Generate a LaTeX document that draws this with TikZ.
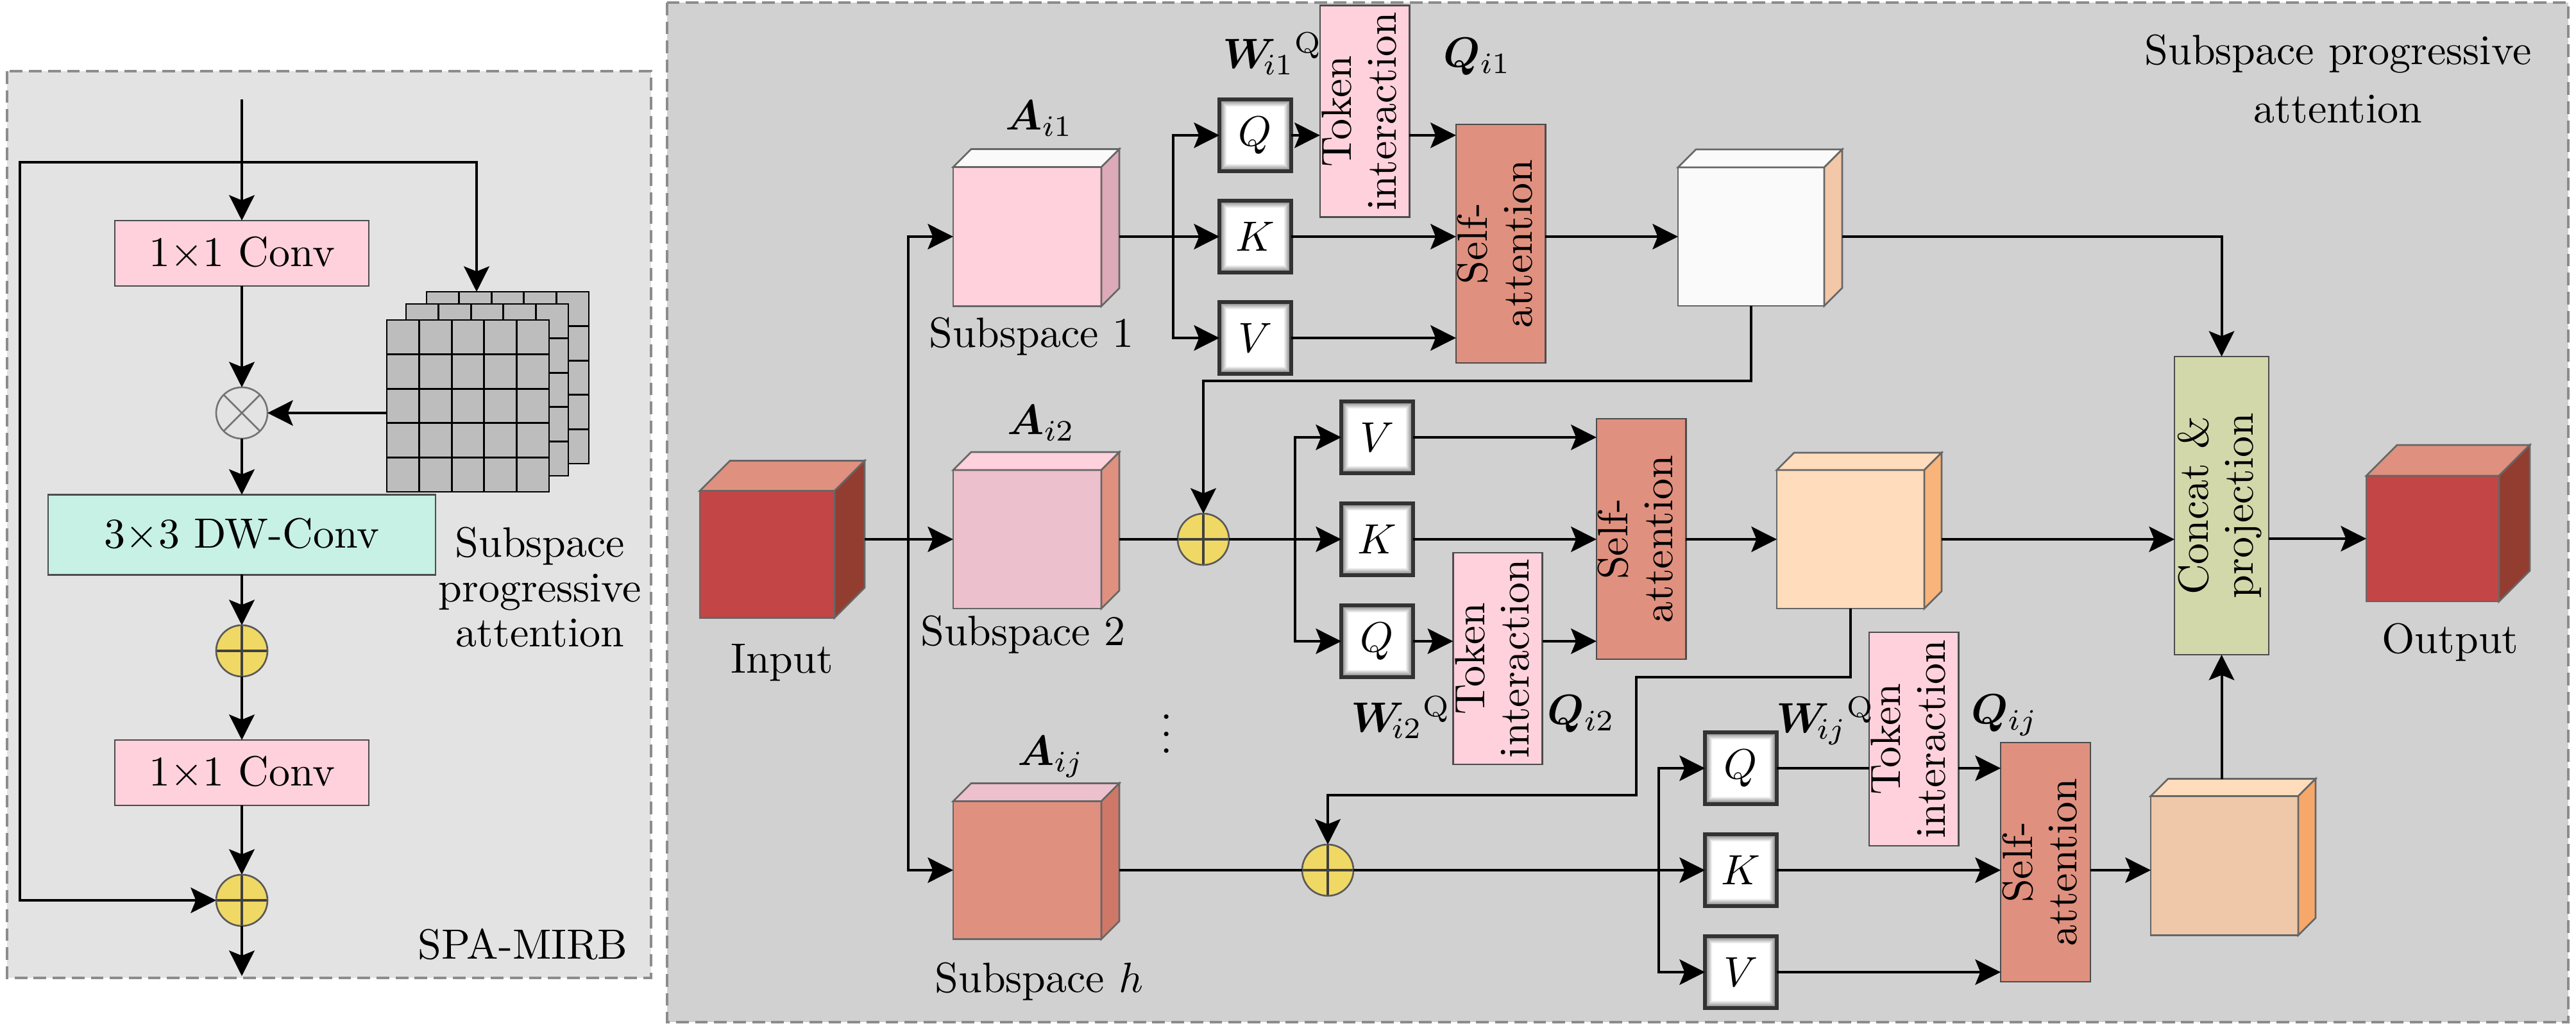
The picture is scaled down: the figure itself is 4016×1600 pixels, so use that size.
\documentclass[tikz,border=0pt]{standalone}
\usepackage{amsmath,bm}
\usetikzlibrary{arrows.meta}

\newcommand{\pxu}{0.1515pt}
\definecolor{panelL}{HTML}{E3E3E3}
\definecolor{panelR}{HTML}{D1D1D1}
\definecolor{convpink}{HTML}{FFD1DC}
\definecolor{dwmint}{HTML}{C6F1E4}
\definecolor{saltone}{HTML}{E0907F}
\definecolor{addyel}{HTML}{F0D864}
\definecolor{catgreen}{HTML}{D2D8AA}
\definecolor{inred}{HTML}{C44545}
\definecolor{indark}{HTML}{923D30}
\definecolor{offwhite}{HTML}{FAFAFA}
\definecolor{pinkdark}{HTML}{DCAAB8}
\definecolor{pinkmid}{HTML}{ECC0CC}
\definecolor{salside}{HTML}{D07868}
\definecolor{peach}{HTML}{FFDCBC}
\definecolor{peachside}{HTML}{F8B47A}
\definecolor{peachdark}{HTML}{EEC8A8}
\definecolor{peachsidedark}{HTML}{F5A86A}
\definecolor{whiteside}{HTML}{F2C8A8}
\definecolor{gridgray}{HTML}{BDBDBD}

% two lines of text turned upwards
\newcommand{\vtwo}[2]{\rotatebox{90}{\renewcommand{\arraystretch}{0.88}\begin{tabular}{@{}c@{}}#1\\#2\end{tabular}}}

% cube: name, centre of front face, width, height, depth, front, top, side
\newcommand{\spcube}[8]{%
  \node[cubefront, fill=#6, minimum width=#3*\pxu, minimum height=#4*\pxu] (#1) at (#2) {};
  \filldraw[cubeedge, fill=#7] (#1.north west) -- ++(#5,-#5) -- ++(#3,0) -- (#1.north east) -- cycle;
  \filldraw[cubeedge, fill=#8] (#1.north east) -- ++(#5,-#5) -- ++(0,#4) -- (#1.south east) -- cycle;
  \coordinate (#1-e) at ([xshift=#5*\pxu]#1.east);
  \coordinate (#1-r) at ([shift={(#5,-#5/2)}]#1.east);
  \coordinate (#1-t) at ([shift={(#5/2,-#5)}]#1.north);
}

\begin{document}
\begin{tikzpicture}[x=\pxu, y=-\pxu,
  spapanel/.style = {draw=black!45, dash pattern=on 3pt off 1.5pt, line width=0.5pt},
  spaline/.style = {line width=0.6pt},
  spaarrow/.style = {spaline, -{Stealth[length=6pt,width=6pt,inset=1.2pt]}},
  spabox/.style = {draw=black!70, line width=0.4pt, inner sep=0pt, outer sep=0pt},
  spaconv/.style = {spabox, fill=convpink, minimum width=396*\pxu, minimum height=102*\pxu},
  spadw/.style = {spabox, fill=dwmint, minimum width=604*\pxu, minimum height=125*\pxu},
  spatok/.style = {spabox, fill=convpink, minimum width=135*\pxu, minimum height=330*\pxu},
  spasa/.style = {spabox, fill=saltone, minimum height=372*\pxu},
  spacat/.style = {spabox, fill=catgreen, minimum width=147*\pxu, minimum height=465*\pxu},
  spaqkv/.style = {draw=black!80, line width=0.9pt, inner sep=0pt, outer sep=0pt,
    minimum size=112*\pxu, fill=white,
    path picture={\foreach \k [evaluate=\k as \c using {max(0,52-4.6*\k)}] in {0,1,...,12}
      \fill[black!\c!white] ([shift={(\k,\k)}]path picture bounding box.north west)
        rectangle ([shift={(-\k,-\k)}]path picture bounding box.south east);}},
  spaadd/.style = {circle, draw=black!65, line width=0.4pt, fill=addyel, minimum size=80*\pxu,
    inner sep=0pt, outer sep=0pt,
    path picture={\draw[black!75, line width=0.5pt]
      (path picture bounding box.north) -- (path picture bounding box.south)
      (path picture bounding box.west) -- (path picture bounding box.east);}},
  spamul/.style = {circle, draw=black!55, line width=0.4pt, fill=panelL, minimum size=80*\pxu,
    inner sep=0pt, outer sep=0pt,
    path picture={\draw[black!55, line width=0.4pt]
      (path picture bounding box.north west) -- (path picture bounding box.south east)
      (path picture bounding box.north east) -- (path picture bounding box.south west);}},
  cubefront/.style = {draw=black!60, line width=0.4pt, inner sep=0pt, outer sep=0pt},
  cubeedge/.style = {draw=black!60, line width=0.4pt},
  gridlayer/.style = {draw=black, line width=0.4pt, fill=gridgray},
  gridline/.style = {black, line width=0.4pt}
]
  % page and panels
  \fill[white] (0,0) rectangle (4016,1600);
  \useasboundingbox (0,0) rectangle (4016,1600);
  \draw[spapanel, fill=panelL] (11,111) rectangle (1015,1525);
  \draw[spapanel, fill=panelR] (1040,4) rectangle (4004,1594);

  % SPA-MIRB
  \coordinate (lin) at (377,155);
  \coordinate (split) at (377,253);
  \coordinate (skipL) at (31,253);
  \node[spaconv] (conv1) at (377,395) {1$\times$1 Conv};
  \node[spamul] (mul) at (377,644) {};
  \node[spadw] (dw) at (377,834) {3$\times$3 DW-Conv};
  \node[spaadd] (add1) at (377,1015) {};
  \node[spaconv] (conv2) at (377,1205) {1$\times$1 Conv};
  \node[spaadd] (add2) at (377,1404) {};
  \coordinate (lout) at (377,1522);

  % attention maps
  \foreach \gx/\gy in {665/455, 633/474, 603/499} {
    \begin{scope}[shift={(\gx,\gy)}]
      \filldraw[gridlayer] (0,0) rectangle (253,268);
      \foreach \k in {1,...,4} {
        \draw[gridline] (\k*50.6,0) -- (\k*50.6,268);
        \draw[gridline] (0,\k*53.6) -- (253,\k*53.6);
      }
    \end{scope}
  }
  \coordinate (gridin) at (743,455);
  \coordinate (gridout) at (603,644);
  \node[align=center] (spatxt) at (842,916) {Subspace\\[-1.4pt]progressive\\[-1.4pt]attention};
  \node (mirb) at (815,1473) {SPA-MIRB};

  \draw[spaarrow] (lin) -- (conv1);
  \draw[spaarrow] (conv1) -- (mul);
  \draw[spaarrow] (mul) -- (dw);
  \draw[spaarrow] (dw) -- (add1);
  \draw[spaarrow] (add1) -- (conv2);
  \draw[spaarrow] (conv2) -- (add2);
  \draw[spaarrow] (add2) -- (lout);
  \draw[spaarrow] (split) -| (gridin);
  \draw[spaarrow] (split) -- (skipL) |- (add2);
  \draw[spaarrow] (gridout) -- (mul);

  % input and subspaces
  \node[align=center] (title) at (3645,123) {Subspace progressive\\[1.8pt]attention};
  \spcube{inp}{1196,864.5}{210}{198}{47}{inred}{saltone}{indark}
  \spcube{s1}{1601.5,369}{231}{217}{28}{convpink}{offwhite}{pinkdark}
  \spcube{s2}{1601.5,841}{231}{216}{28}{pinkmid}{convpink}{saltone}
  \spcube{sh}{1601.5,1357}{231}{215}{28}{saltone}{pinkmid}{salside}
  \node (inlbl) at (1219,1033) {Input};
  \node (a1lbl) at (1620,185) {$\bm{A}_{i1}$};
  \node (a2lbl) at (1623,660) {$\bm{A}_{i2}$};
  \node (ahlbl) at (1638,1180) {$\bm{A}_{ij}$};
  \node (s1lbl) at (1608,525) {Subspace 1};
  \node (s2lbl) at (1595,990) {Subspace 2};
  \node (shlbl) at (1620,1531) {Subspace $h$};
  \node (dots) at (1819,1125) {$\vdots$};
  \coordinate (br) at (1416,841);

  % head 1
  \node[spaqkv] (q1) at (1957,211) {$Q$};
  \node[spaqkv] (k1) at (1957,369) {$K$};
  \node[spaqkv] (v1) at (1957,527) {$V$};
  \node[spatok] (tok1) at (2127.5,173.5) {\vtwo{Token}{interaction}};
  \node[spasa, minimum width=131*\pxu] (sa1) at (2339.5,380) {\vtwo{Self-}{attention}};
  \spcube{w1}{2730,369}{228}{216}{28}{offwhite}{offwhite}{whiteside}
  \node (w1lbl) at (1984,84) {$\bm{W}_{\!i1}{}^{\mathrm{Q}}$};
  \node (q1lbl) at (2303,88) {$\bm{Q}_{i1}$};
  \coordinate (b1) at (1829,369);
  \coordinate (fb1) at (1876,594);

  % head 2
  \node[spaadd] (a2) at (1876,841) {};
  \node[spaqkv] (v2) at (2147,682) {$V$};
  \node[spaqkv] (k2) at (2147,841) {$K$};
  \node[spaqkv] (q2) at (2147,1000) {$Q$};
  \node[spatok] (tok2) at (2335,1027) {\vtwo{Token}{interaction}};
  \node[spasa, minimum width=117*\pxu, minimum height=375*\pxu] (sa2) at (2558.5,840.5) {\vtwo{Self-}{attention}};
  \spcube{p2}{2885,841}{230}{216}{27}{peach}{peach}{peachside}
  \node (w2lbl) at (2184,1119) {$\bm{W}_{\!i2}{}^{\mathrm{Q}}$};
  \node (q2lbl) at (2465,1113) {$\bm{Q}_{i2}$};
  \coordinate (b2) at (2019,841);
  \coordinate (fb2a) at (2551,1056);
  \coordinate (fb2b) at (2070,1240);

  % head h
  \node[spaadd] (ah) at (2070,1357) {};
  \node[spaqkv] (qh) at (2714,1198) {$Q$};
  \node[spaqkv] (kh) at (2714,1357) {$K$};
  \node[spaqkv] (vh) at (2714,1516) {$V$};
  \node[spatok, minimum height=333*\pxu] (tokh) at (2983.5,1152.5) {\vtwo{Token}{interaction}};
  \node[spasa, minimum width=140*\pxu, minimum height=373*\pxu] (sah) at (3189,1344.5) {\vtwo{Self-}{attention}};
  \spcube{ph}{3468,1350}{230}{217}{27}{peachdark}{peach}{peachsidedark}
  \node (whlbl) at (2846,1124) {$\bm{W}_{\!ij}{}^{\mathrm{Q}}$};
  \node (qhlbl) at (3125,1115) {$\bm{Q}_{ij}$};
  \coordinate (bh) at (2586,1357);

  % merge
  \node[spacat] (cat) at (3463.5,788.5) {\vtwo{Concat \&}{projection}};
  \spcube{outc}{3792.5,840}{207}{196}{48}{inred}{saltone}{indark}
  \node (outlbl) at (3820,1002) {Output};

  % split into subspaces
  \draw[spaarrow] (inp-r) -- (s2);
  \draw[spaarrow] (br) |- (s1);
  \draw[spaarrow] (br) |- (sh);
  % head 1 links
  \draw[spaarrow] (s1-e) -- (k1);
  \draw[spaarrow] (b1) |- (q1);
  \draw[spaarrow] (b1) |- (v1);
  \draw[spaarrow] (q1) -- (q1 -| tok1.west);
  \draw[spaarrow] (q1 -| tok1.east) -- (q1 -| sa1.west);
  \draw[spaarrow] (k1) -- (k1 -| sa1.west);
  \draw[spaarrow] (v1) -- (v1 -| sa1.west);
  \draw[spaarrow] (k1 -| sa1.east) -- (w1);
  \draw[spaarrow] (w1-e) -| (cat);
  \draw[spaarrow] (w1.south) |- (fb1) -- (a2);
  % head 2 links
  \draw[spaline] (s2-e) -- (a2);
  \draw[spaarrow] (a2) -- (k2);
  \draw[spaarrow] (b2) |- (v2);
  \draw[spaarrow] (b2) |- (q2);
  \draw[spaarrow] (v2) -- (v2 -| sa2.west);
  \draw[spaarrow] (k2) -- (k2 -| sa2.west);
  \draw[spaarrow] (q2) -- (q2 -| tok2.west);
  \draw[spaarrow] (q2 -| tok2.east) -- (q2 -| sa2.west);
  \draw[spaarrow] (k2 -| sa2.east) -- (p2);
  \draw[spaarrow] (p2-e) -- (p2-e -| cat.west);
  \draw[spaarrow] (p2.south) |- (fb2a) |- (fb2b) -- (ah);
  % head h links
  \draw[spaline] (sh-e) -- (ah);
  \draw[spaarrow] (ah) -- (kh);
  \draw[spaarrow] (bh) |- (qh);
  \draw[spaarrow] (bh) |- (vh);
  \draw[spaline] (qh) -- (qh -| tokh.west);
  \draw[spaarrow] (qh -| tokh.east) -- (qh -| sah.west);
  \draw[spaarrow] (kh) -- (kh -| sah.west);
  \draw[spaarrow] (vh) -- (vh -| sah.west);
  \draw[spaarrow] (kh -| sah.east) -- (kh -| ph.west);
  \draw[spaarrow] (cat |- ph-t) -- (cat);
  \draw[spaarrow] (cat.east |- outc) -- (outc);
\end{tikzpicture}
\end{document}
